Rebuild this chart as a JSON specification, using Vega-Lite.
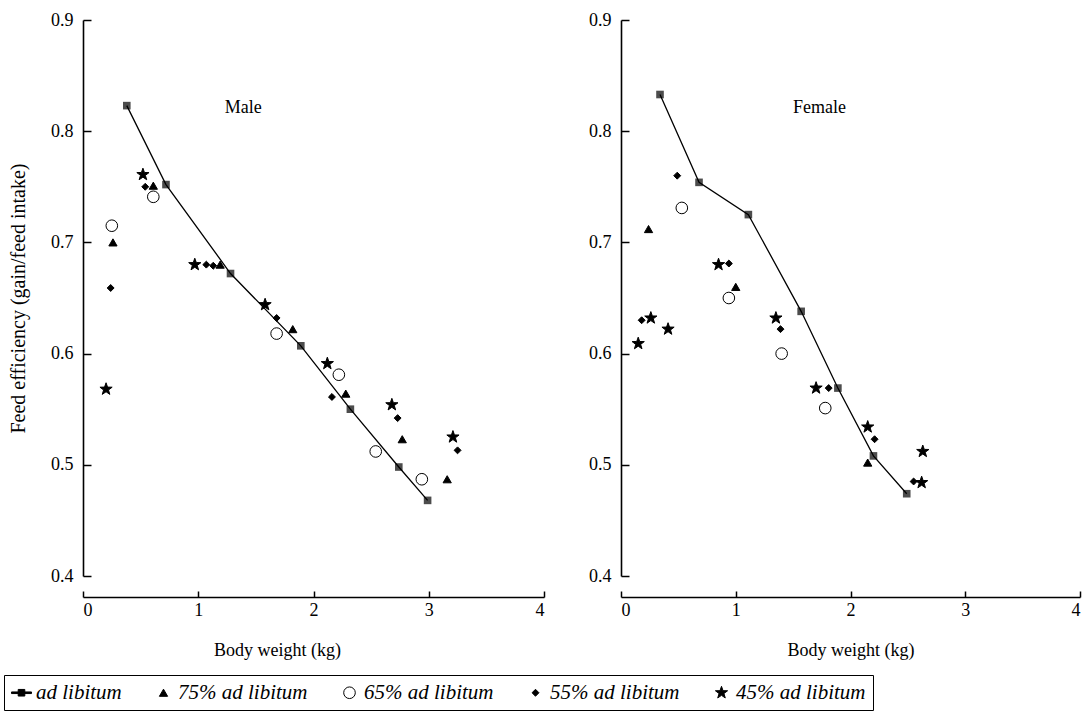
{
  "$schema": "https://vega.github.io/schema/vega-lite/v6.json",
  "background": "white",
  "padding": {"left": 3, "top": 11, "right": 3, "bottom": 0},
  "config": {
    "font": "Liberation Serif",
    "view": {"stroke": null},
    "concat": {"spacing": 43},
    "axis": {
      "labelFont": "Liberation Serif",
      "titleFont": "Liberation Serif",
      "labelFontSize": 18,
      "titleFontSize": 18,
      "titleFontWeight": "normal",
      "labelColor": "black",
      "titleColor": "black",
      "domainColor": "black",
      "tickColor": "black",
      "domainWidth": 1.6,
      "tickWidth": 1.5,
      "grid": false
    },
    "legend": {
      "orient": "none",
      "legendX": -79,
      "legendY": 655,
      "direction": "horizontal",
      "columns": 5,
      "strokeColor": "black",
      "padding": 7,
      "columnPadding": 31,
      "labelFont": "Liberation Serif",
      "labelFontSize": 21,
      "labelFontStyle": "italic",
      "labelColor": "black",
      "symbolStrokeColor": "black",
      "symbolStrokeWidth": 1
    }
  },
  "data": {
    "values": [
      {"sex": "Male", "series": "ad libitum", "bw": 0.38, "fe": 0.823},
      {"sex": "Male", "series": "ad libitum", "bw": 0.72, "fe": 0.752},
      {"sex": "Male", "series": "ad libitum", "bw": 1.28, "fe": 0.672},
      {"sex": "Male", "series": "ad libitum", "bw": 1.89, "fe": 0.607},
      {"sex": "Male", "series": "ad libitum", "bw": 2.32, "fe": 0.550},
      {"sex": "Male", "series": "ad libitum", "bw": 2.74, "fe": 0.498},
      {"sex": "Male", "series": "ad libitum", "bw": 2.99, "fe": 0.468},
      {"sex": "Male", "series": "75% ad libitum", "bw": 0.26, "fe": 0.700},
      {"sex": "Male", "series": "75% ad libitum", "bw": 0.61, "fe": 0.751},
      {"sex": "Male", "series": "75% ad libitum", "bw": 1.19, "fe": 0.680},
      {"sex": "Male", "series": "75% ad libitum", "bw": 1.82, "fe": 0.622},
      {"sex": "Male", "series": "75% ad libitum", "bw": 2.28, "fe": 0.564},
      {"sex": "Male", "series": "75% ad libitum", "bw": 2.77, "fe": 0.523},
      {"sex": "Male", "series": "75% ad libitum", "bw": 3.16, "fe": 0.487},
      {"sex": "Male", "series": "65% ad libitum", "bw": 0.25, "fe": 0.715},
      {"sex": "Male", "series": "65% ad libitum", "bw": 0.61, "fe": 0.741},
      {"sex": "Male", "series": "65% ad libitum", "bw": 1.68, "fe": 0.618},
      {"sex": "Male", "series": "65% ad libitum", "bw": 2.22, "fe": 0.581},
      {"sex": "Male", "series": "65% ad libitum", "bw": 2.54, "fe": 0.512},
      {"sex": "Male", "series": "65% ad libitum", "bw": 2.94, "fe": 0.487},
      {"sex": "Male", "series": "55% ad libitum", "bw": 0.24, "fe": 0.659},
      {"sex": "Male", "series": "55% ad libitum", "bw": 0.54, "fe": 0.750},
      {"sex": "Male", "series": "55% ad libitum", "bw": 1.07, "fe": 0.680},
      {"sex": "Male", "series": "55% ad libitum", "bw": 1.13, "fe": 0.679},
      {"sex": "Male", "series": "55% ad libitum", "bw": 1.68, "fe": 0.632},
      {"sex": "Male", "series": "55% ad libitum", "bw": 2.16, "fe": 0.561},
      {"sex": "Male", "series": "55% ad libitum", "bw": 2.73, "fe": 0.542},
      {"sex": "Male", "series": "55% ad libitum", "bw": 3.25, "fe": 0.513},
      {"sex": "Male", "series": "45% ad libitum", "bw": 0.20, "fe": 0.568},
      {"sex": "Male", "series": "45% ad libitum", "bw": 0.52, "fe": 0.761},
      {"sex": "Male", "series": "45% ad libitum", "bw": 0.97, "fe": 0.680},
      {"sex": "Male", "series": "45% ad libitum", "bw": 1.58, "fe": 0.644},
      {"sex": "Male", "series": "45% ad libitum", "bw": 2.12, "fe": 0.591},
      {"sex": "Male", "series": "45% ad libitum", "bw": 2.68, "fe": 0.554},
      {"sex": "Male", "series": "45% ad libitum", "bw": 3.21, "fe": 0.525},
      {"sex": "Female", "series": "ad libitum", "bw": 0.34, "fe": 0.833},
      {"sex": "Female", "series": "ad libitum", "bw": 0.68, "fe": 0.754},
      {"sex": "Female", "series": "ad libitum", "bw": 1.11, "fe": 0.725},
      {"sex": "Female", "series": "ad libitum", "bw": 1.57, "fe": 0.638},
      {"sex": "Female", "series": "ad libitum", "bw": 1.89, "fe": 0.569},
      {"sex": "Female", "series": "ad libitum", "bw": 2.20, "fe": 0.508},
      {"sex": "Female", "series": "ad libitum", "bw": 2.49, "fe": 0.474},
      {"sex": "Female", "series": "75% ad libitum", "bw": 0.24, "fe": 0.712},
      {"sex": "Female", "series": "75% ad libitum", "bw": 1.00, "fe": 0.660},
      {"sex": "Female", "series": "75% ad libitum", "bw": 2.15, "fe": 0.502},
      {"sex": "Female", "series": "65% ad libitum", "bw": 0.53, "fe": 0.731},
      {"sex": "Female", "series": "65% ad libitum", "bw": 0.94, "fe": 0.650},
      {"sex": "Female", "series": "65% ad libitum", "bw": 1.40, "fe": 0.600},
      {"sex": "Female", "series": "65% ad libitum", "bw": 1.78, "fe": 0.551},
      {"sex": "Female", "series": "55% ad libitum", "bw": 0.18, "fe": 0.630},
      {"sex": "Female", "series": "55% ad libitum", "bw": 0.49, "fe": 0.760},
      {"sex": "Female", "series": "55% ad libitum", "bw": 0.94, "fe": 0.681},
      {"sex": "Female", "series": "55% ad libitum", "bw": 1.39, "fe": 0.622},
      {"sex": "Female", "series": "55% ad libitum", "bw": 1.81, "fe": 0.569},
      {"sex": "Female", "series": "55% ad libitum", "bw": 2.21, "fe": 0.523},
      {"sex": "Female", "series": "55% ad libitum", "bw": 2.55, "fe": 0.485},
      {"sex": "Female", "series": "45% ad libitum", "bw": 0.15, "fe": 0.609},
      {"sex": "Female", "series": "45% ad libitum", "bw": 0.26, "fe": 0.632},
      {"sex": "Female", "series": "45% ad libitum", "bw": 0.41, "fe": 0.622},
      {"sex": "Female", "series": "45% ad libitum", "bw": 0.85, "fe": 0.680},
      {"sex": "Female", "series": "45% ad libitum", "bw": 1.35, "fe": 0.632},
      {"sex": "Female", "series": "45% ad libitum", "bw": 1.70, "fe": 0.569},
      {"sex": "Female", "series": "45% ad libitum", "bw": 2.15, "fe": 0.534},
      {"sex": "Female", "series": "45% ad libitum", "bw": 2.63, "fe": 0.512},
      {"sex": "Female", "series": "45% ad libitum", "bw": 2.62, "fe": 0.484}
    ]
  },
  "hconcat": [
    {
      "width": 461,
      "height": 556,
      "encoding": {
        "x": {"field": "bw", "type": "quantitative", "scale": {"domain": [0, 4], "nice": false, "zero": false},
              "axis": {"values": [0, 1, 2, 3, 4], "title": "Body weight (kg)", "offset": 21, "tickSize": -6, "labelPadding": 10, "titlePadding": 22, "titleX": 194}},
        "y": {"field": "fe", "type": "quantitative", "scale": {"domain": [0.4, 0.9], "nice": false, "zero": false},
              "axis": {"values": [0.4, 0.5, 0.6, 0.7, 0.8, 0.9], "format": ".1f", "title": "Feed efficiency (gain/feed intake)", "titleFontSize": 20, "tickSize": -8, "labelPadding": 18, "titlePadding": 22}}
      },
      "layer": [
        {"transform": [{"filter": "datum.sex === 'Male' && datum.series === 'ad libitum'"}], "mark": {"type": "line", "color": "black", "strokeWidth": 1.3}, "encoding": {}},
        {"transform": [{"filter": "datum.sex === 'Male' && datum.series === 'ad libitum'"}], "mark": {"type": "point", "shape": "square", "filled": true, "color": "black", "size": 58}, "encoding": {}},
        {"transform": [{"filter": "datum.sex === 'Male' && datum.series !== 'ad libitum'"}],
         "mark": {"type": "point", "strokeWidth": 1, "opacity": 1},
         "encoding": {
           "shape": {"field": "series", "type": "nominal", "legend": {"title": null},
                     "scale": {"domain": ["ad libitum", "75% ad libitum", "65% ad libitum", "55% ad libitum", "45% ad libitum"],
                               "range": ["M-1,-0.08H1V0.08H-1Z M-0.33,-0.33H0.33V0.33H-0.33Z", "triangle-up", "circle", "diamond", "M0,-1L0.235,-0.324L0.951,-0.309L0.38,0.124L0.588,0.809L0,0.4L-0.588,0.809L-0.38,0.124L-0.951,-0.309L-0.235,-0.324Z"]}},
           "fill": {"field": "series", "type": "nominal", "legend": {"title": null},
                    "scale": {"domain": ["ad libitum", "75% ad libitum", "65% ad libitum", "55% ad libitum", "45% ad libitum"],
                              "range": ["black", "black", "white", "black", "black"]}},
           "stroke": {"field": "series", "type": "nominal", "legend": {"title": null},
                    "scale": {"domain": ["ad libitum", "75% ad libitum", "65% ad libitum", "55% ad libitum", "45% ad libitum"],
                              "range": ["black", "black", "black", "black", "black"]}},
           "size": {"field": "series", "type": "nominal", "legend": {"title": null},
                    "scale": {"type": "ordinal", "domain": ["ad libitum", "75% ad libitum", "65% ad libitum", "55% ad libitum", "45% ad libitum"],
                              "range": [400, 68, 135, 48, 165]}}
         }},
        {"transform": [{"filter": "datum.sex === 'Male' && datum.series === 'ad libitum' && datum.bw < 0.5"}],
         "mark": {"type": "text", "font": "Liberation Serif", "fontSize": 18, "color": "black"},
         "encoding": {"x": {"datum": 1.39}, "y": {"datum": 0.821}, "text": {"value": "Male"}}}
      ]
    },
    {
      "width": 459,
      "height": 556,
      "encoding": {
        "x": {"field": "bw", "type": "quantitative", "scale": {"domain": [0, 4], "nice": false, "zero": false},
              "axis": {"values": [0, 1, 2, 3, 4], "title": "Body weight (kg)", "offset": 21, "tickSize": -6, "labelPadding": 10, "titlePadding": 22}},
        "y": {"field": "fe", "type": "quantitative", "scale": {"domain": [0.4, 0.9], "nice": false, "zero": false},
              "axis": {"values": [0.4, 0.5, 0.6, 0.7, 0.8, 0.9], "format": ".1f", "title": null, "tickSize": -8, "labelPadding": 18}}
      },
      "layer": [
        {"transform": [{"filter": "datum.sex === 'Female' && datum.series === 'ad libitum'"}], "mark": {"type": "line", "color": "black", "strokeWidth": 1.3}, "encoding": {}},
        {"transform": [{"filter": "datum.sex === 'Female' && datum.series === 'ad libitum'"}], "mark": {"type": "point", "shape": "square", "filled": true, "color": "black", "size": 58}, "encoding": {}},
        {"transform": [{"filter": "datum.sex === 'Female' && datum.series !== 'ad libitum'"}],
         "mark": {"type": "point", "strokeWidth": 1, "opacity": 1},
         "encoding": {
           "shape": {"field": "series", "type": "nominal", "legend": {"title": null},
                     "scale": {"domain": ["ad libitum", "75% ad libitum", "65% ad libitum", "55% ad libitum", "45% ad libitum"],
                               "range": ["M-1,-0.08H1V0.08H-1Z M-0.33,-0.33H0.33V0.33H-0.33Z", "triangle-up", "circle", "diamond", "M0,-1L0.235,-0.324L0.951,-0.309L0.38,0.124L0.588,0.809L0,0.4L-0.588,0.809L-0.38,0.124L-0.951,-0.309L-0.235,-0.324Z"]}},
           "fill": {"field": "series", "type": "nominal", "legend": {"title": null},
                    "scale": {"domain": ["ad libitum", "75% ad libitum", "65% ad libitum", "55% ad libitum", "45% ad libitum"],
                              "range": ["black", "black", "white", "black", "black"]}},
           "stroke": {"field": "series", "type": "nominal", "legend": {"title": null},
                    "scale": {"domain": ["ad libitum", "75% ad libitum", "65% ad libitum", "55% ad libitum", "45% ad libitum"],
                              "range": ["black", "black", "black", "black", "black"]}},
           "size": {"field": "series", "type": "nominal", "legend": {"title": null},
                    "scale": {"type": "ordinal", "domain": ["ad libitum", "75% ad libitum", "65% ad libitum", "55% ad libitum", "45% ad libitum"],
                              "range": [400, 68, 135, 48, 165]}}
         }},
        {"transform": [{"filter": "datum.sex === 'Female' && datum.series === 'ad libitum' && datum.bw < 0.5"}],
         "mark": {"type": "text", "font": "Liberation Serif", "fontSize": 18, "color": "black"},
         "encoding": {"x": {"datum": 1.73}, "y": {"datum": 0.821}, "text": {"value": "Female"}}}
      ]
    }
  ],
  "resolve": {"scale": {"shape": "shared", "fill": "shared", "stroke": "shared", "size": "shared"}}
}
